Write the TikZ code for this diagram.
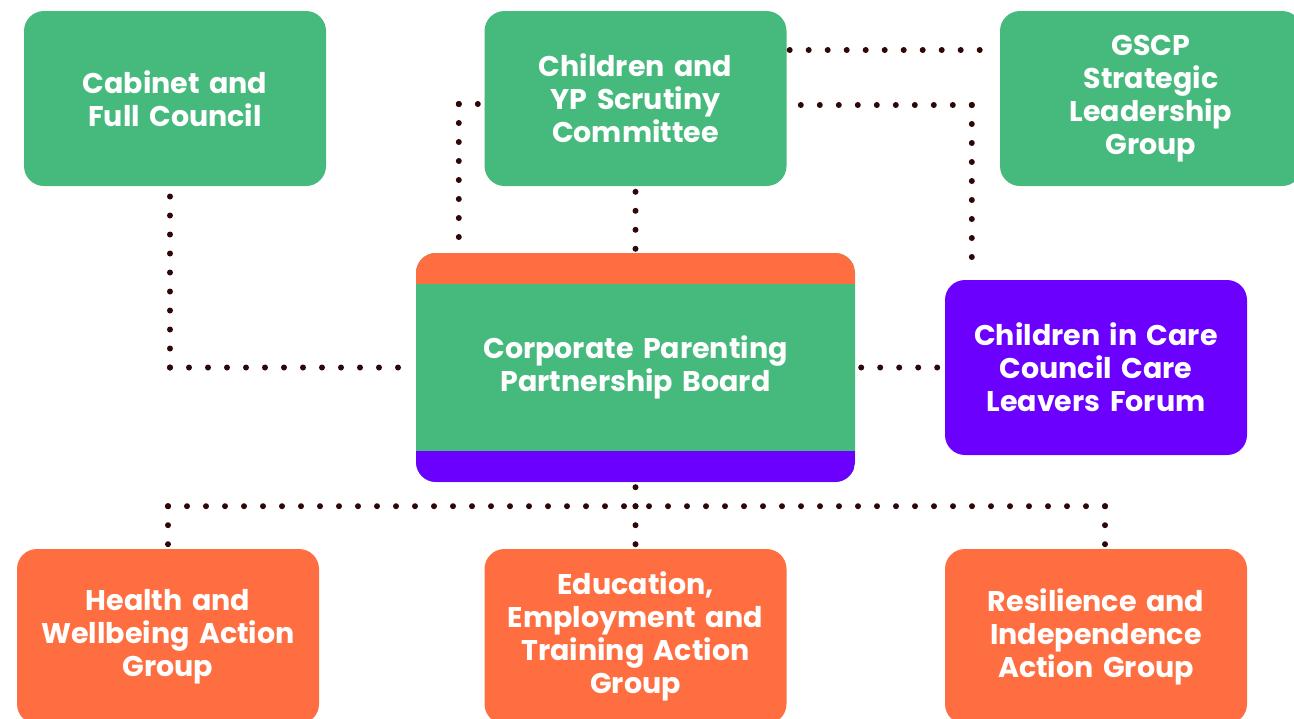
\documentclass[tikz,border=0pt]{standalone}
\usepackage{fontspec}
\setmainfont{Poppins}
\usetikzlibrary{calc}
\definecolor{boxgreen}{HTML}{46BA7C}
\definecolor{boxorange}{HTML}{FF6E40}
\definecolor{boxpurple}{HTML}{6B00FF}
\definecolor{dotcol}{HTML}{2E0808}
\begin{document}
\begin{tikzpicture}[x=1pt,y=-1pt,
  box/.style={rounded corners=20pt, minimum width=302pt, minimum height=175pt,
    text width=295pt, align=center, text=white, inner sep=0pt,
    font=\fontsize{28.5pt}{33pt}\selectfont\bfseries},
  greenbox/.style={box, fill=boxgreen},
  orangebox/.style={box, fill=boxorange},
  purplebox/.style={box, fill=boxpurple},
  dots/.style={draw=dotcol, line width=6pt, line cap=round,
    dash pattern=on 0pt off 19pt}]
\useasboundingbox[fill=white] (0,0) rectangle (1294,718);

% top row
\node[greenbox] (cab) at (175,98.5) {Cabinet and\\Full Council};
\node[greenbox] (yp) at (635.5,98.5) {Children and\\YP Scrutiny\\Committee};
\node[greenbox] (gscp) at (1151,98.5) {GSCP\\Strategic\\Leadership\\Group};

% middle row: the board carries an orange top band and a purple bottom band
\node[box, minimum width=439pt, minimum height=229pt, text width=420pt, fill=boxgreen,
  path picture={
    \fill[boxorange, sharp corners] (path picture bounding box.north west) rectangle
      ([yshift=-31pt]path picture bounding box.north east);
    \fill[boxpurple, sharp corners] (path picture bounding box.south west) rectangle
      ([yshift=31pt]path picture bounding box.south east);
  }] (cpb) at (635.5,367.5) {Corporate Parenting\\Partnership Board};
\node[purplebox] (cic) at (1096,367.5) {Children in Care\\Council Care\\Leavers Forum};

% bottom row
\node[orangebox] (hw) at (168,636.5) {Health and\\Wellbeing Action\\Group};
\node[orangebox] (eet) at (635.5,636.5) {Education,\\Employment and\\Training Action\\Group};
\node[orangebox] (ri) at (1096,636.5) {Resilience and\\Independence\\Action Group};

% dotted links above the board (each elbow drawn outward from its corner)
\coordinate (cabb) at ([xshift=-5pt,yshift=-4pt]cab.south);
\coordinate (cpbw) at ([xshift=-6pt]cpb.west);
\coordinate (k1) at (cabb |- cpbw);
\draw[dots] (k1) -- (cabb);
\draw[dots] (k1) -- (cpbw);

\coordinate (ypl) at ([yshift=-5.5pt]yp.west);
\coordinate (cpbl) at ([xshift=43pt,yshift=4pt]cpb.north west);
\coordinate (k2) at (cpbl |- ypl);
\draw[dots] (k2) -- (ypl);
\draw[dots] (k2) -- (cpbl);

\draw[dots] ([yshift=4pt]cpb.north) -- ([yshift=-4pt]yp.south);

\coordinate (ypt) at ([xshift=3pt,yshift=48.5pt]yp.east);
\draw[dots] (ypt) -- ([xshift=-3pt]gscp.west |- ypt);

\coordinate (ypm) at ([xshift=3pt,yshift=-6.5pt]yp.east);
\coordinate (cict) at ([xshift=27pt,yshift=10pt]cic.north west);
\coordinate (k3) at (cict |- ypm);
\draw[dots] (k3) -- (ypm);
\draw[dots] (k3) -- (cict);

\draw[dots] ([xshift=6pt]cpb.east) -- ([xshift=-2pt]cic.west);

% dotted links below the board
\coordinate (bus) at ($(cpb.south)+(0,24)$);
\coordinate (hwn) at ([yshift=2pt]hw.north);
\coordinate (rin) at ([xshift=9pt,yshift=2pt]ri.north);
\coordinate (k4) at (hwn |- bus);
\coordinate (k5) at (rin |- bus);
\draw[dots] (bus) -- ([yshift=-4pt]cpb.south);
\draw[dots] (bus) -- ([yshift=4pt]eet.north);
\draw[dots] (k4) -- (hwn);
\draw[dots] (k4) -- (bus);
\draw[dots] (k5) -- (rin);
\draw[dots] (k5) -- (bus);
\end{tikzpicture}
\end{document}
